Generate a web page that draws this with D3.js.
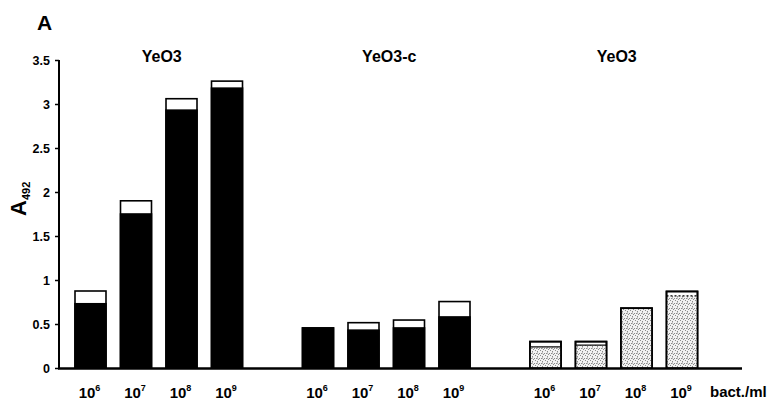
<!DOCTYPE html>
<html><head><meta charset="utf-8">
<script src="https://cdn.jsdelivr.net/npm/d3@7"></script>
<style>body{margin:0;background:#fff}svg{display:block}text{font-family:"Liberation Sans",Arial,sans-serif;font-weight:bold;fill:#000}</style>
</head><body><svg id="c" width="779" height="407"></svg>
<script>
// ---- data ----
const groups = ["YeO3", "YeO3-c", "YeO3 "];
const groupTitles = ["YeO3", "YeO3-c", "YeO3"];
const exponents = ["6", "7", "8", "9"];
// lower (filled) segment values
const lowerVals = [
  [0.73, 1.75, 2.93, 3.18],
  [0.455, 0.43, 0.455, 0.58],
  [0.24, 0.26, 0.68, 0.82]
];
// total bar heights
const totalVals = [
  [0.875, 1.90, 3.06, 3.26],
  [0.455, 0.515, 0.545, 0.755],
  [0.30, 0.30, 0.68, 0.87]
];
const lowerFill = ["black", "black", "stipple"];
const yTicks = [0, 0.5, 1, 1.5, 2, 2.5, 3, 3.5];
const yTickLabels = ["0", "0.5", "1", "1.5", "2", "2.5", "3", "3.5"];

// ---- drawing ----
const svg = d3.select("#c");
const defs = svg.append("defs");
const pat = defs.append("pattern").attr("id", "stip").attr("patternUnits", "userSpaceOnUse")
  .attr("width", 5).attr("height", 5);
pat.append("rect").attr("width", 5).attr("height", 5).attr("fill", "#f2f2f2");
[[0,0],[2,1],[4,3],[1,3],[3,4],[2,2.5]].forEach(p => pat.append("rect").attr("x", p[0]).attr("y", p[1])
  .attr("width", 1).attr("height", 1).attr("fill", "#8a8a8a"));

const y = d3.scaleLinear().domain([0, 3.5]).range([368, 60]);
const xg = d3.scaleBand().domain(groups).range([75, 697.5]).paddingInner(0.2637).paddingOuter(0);
const xi = d3.scaleBand().domain(exponents).range([0, xg.bandwidth()]).paddingInner(0.3187).paddingOuter(0);

// y axis
const yAxis = d3.axisLeft(y).tickValues(yTicks).tickFormat((d, i) => yTickLabels[i]).tickSize(4).tickPadding(5);
const ga = svg.append("g").attr("transform", "translate(59,0)").call(yAxis);
ga.select(".domain").attr("stroke-width", 2).attr("d", `M0,${y(3.5)}V${y(0)}`);
ga.selectAll(".tick line").attr("stroke-width", 1.5);
ga.selectAll(".tick text").style("font-size", "12.5px").attr("font-weight", "bold");

// baseline
svg.append("line").attr("x1", 58).attr("x2", 742).attr("y1", y(0) + 0.5).attr("y2", y(0) + 0.5)
  .attr("stroke", "#000").attr("stroke-width", 2.5);

// bars
groups.forEach((g, gi) => {
  const gg = svg.append("g").attr("transform", `translate(${xg(g)},0)`);
  exponents.forEach((e, i) => {
    const x0 = xi(e), w = xi.bandwidth();
    const lo = lowerVals[gi][i], tot = totalVals[gi][i];
    // upper white segment
    gg.append("rect").attr("x", x0).attr("y", y(tot)).attr("width", w).attr("height", y(0) - y(tot))
      .attr("fill", "#fff").attr("stroke", "#000").attr("stroke-width", 1.6);
    gg.append("rect").attr("x", x0).attr("y", y(lo)).attr("width", w).attr("height", y(0) - y(lo))
      .attr("fill", lowerFill[gi] === "black" ? "#000" : "url(#stip)")
      .attr("stroke", "#000").attr("stroke-width", lowerFill[gi] === "black" ? 1.6 : 0);
    if (lowerFill[gi] !== "black") {
      gg.append("rect").attr("x", x0).attr("y", y(tot)).attr("width", w).attr("height", y(0) - y(tot))
        .attr("fill", "none").attr("stroke", "#000").attr("stroke-width", 1.8);
      if (tot - lo > 0.001)
        gg.append("line").attr("x1", x0).attr("x2", x0 + w).attr("y1", y(lo)).attr("y2", y(lo))
          .attr("stroke", "#000").attr("stroke-width", 1.2).attr("stroke-dasharray", i === 3 ? "2,2" : null);
    }
    // x label
    const t = gg.append("text").attr("x", x0 + w / 2 - 1).attr("y", 398).attr("text-anchor", "middle")
      .style("font-size", "15px");
    t.append("tspan").text("10");
    t.append("tspan").attr("dy", -7).style("font-size", "9px").text(e);
  });
  svg.append("text").attr("x", xg(g) + xg.bandwidth() / 2 + 3).attr("y", 62).attr("text-anchor", "middle")
    .style("font-size", "16px").text(groupTitles[gi]);
});

svg.append("text").attr("x", 710).attr("y", 397).style("font-size", "15px").text("bact./ml");

// panel letter
svg.append("text").attr("x", 37).attr("y", 30).style("font-size", "21px").text("A");

// y label
const yl = svg.append("text").attr("transform", "translate(26,216) rotate(-90)").style("font-size", "22px");
yl.append("tspan").text("A");
yl.append("tspan").attr("dy", 4).style("font-size", "11px").text("492");
</script></body></html>
